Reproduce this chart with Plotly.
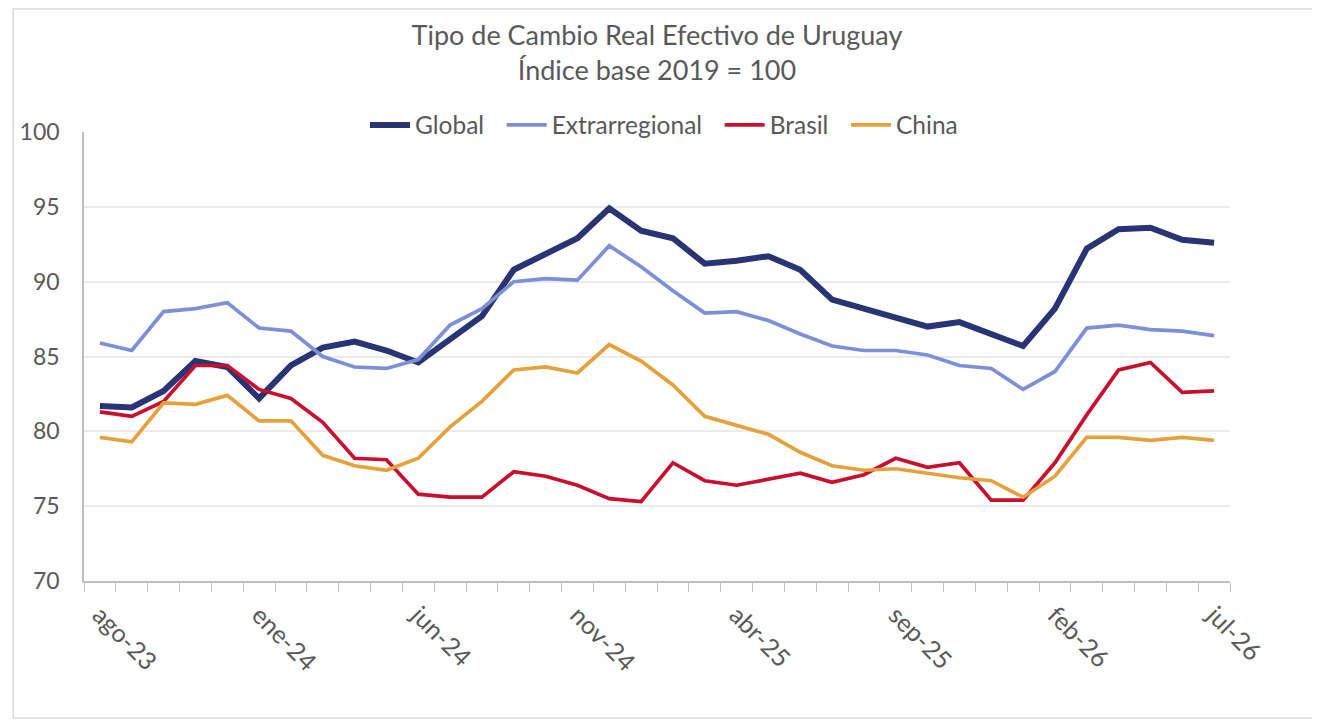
import plotly.graph_objects as go

# meses ago-23 .. jul-26
meses = ["ago-23", "sep-23", "oct-23", "nov-23", "dic-23",
         "ene-24", "feb-24", "mar-24", "abr-24", "may-24",
         "jun-24", "jul-24", "ago-24", "sep-24", "oct-24",
         "nov-24", "dic-24", "ene-25", "feb-25", "mar-25",
         "abr-25", "may-25", "jun-25", "jul-25", "ago-25",
         "sep-25", "oct-25", "nov-25", "dic-25", "ene-26",
         "feb-26", "mar-26", "abr-26", "may-26", "jun-26", "jul-26"]

global_ = [81.7, 81.6, 82.7, 84.7, 84.3, 82.2, 84.4, 85.6, 86.0, 85.4,
           84.6, 86.2, 87.7, 90.8, 91.9, 92.9, 94.9, 93.4, 92.9, 91.2,
           91.4, 91.7, 90.8, 88.8, 88.2, 87.6, 87.0, 87.3, 86.5, 85.7,
           88.2, 92.2, 93.5, 93.6, 92.8, 92.6]

extrarregional = [85.9, 85.4, 88.0, 88.2, 88.6, 86.9, 86.7, 85.0, 84.3, 84.2,
                  84.8, 87.1, 88.2, 90.0, 90.2, 90.1, 92.4, 91.0, 89.4, 87.9,
                  88.0, 87.4, 86.5, 85.7, 85.4, 85.4, 85.1, 84.4, 84.2, 82.8,
                  84.0, 86.9, 87.1, 86.8, 86.7, 86.4]

brasil = [81.3, 81.0, 82.0, 84.4, 84.4, 82.8, 82.2, 80.6, 78.2, 78.1,
          75.8, 75.6, 75.6, 77.3, 77.0, 76.4, 75.5, 75.3, 77.9, 76.7,
          76.4, 76.8, 77.2, 76.6, 77.1, 78.2, 77.6, 77.9, 75.4, 75.4,
          77.9, 81.1, 84.1, 84.6, 82.6, 82.7]

china = [79.6, 79.3, 81.9, 81.8, 82.4, 80.7, 80.7, 78.4, 77.7, 77.4,
         78.2, 80.3, 82.0, 84.1, 84.3, 83.9, 85.8, 84.7, 83.1, 81.0,
         80.4, 79.8, 78.6, 77.7, 77.4, 77.5, 77.2, 76.9, 76.7, 75.6,
         77.0, 79.6, 79.6, 79.4, 79.6, 79.4]

# etiqueta cada 5 meses
etiquetas = [m if i % 5 == 0 else "" for i, m in enumerate(meses)]

gris = "#595959"
fuente = "Lato"
esp = "\u00a0\u00a0"  # separación extra entre entradas de la leyenda

# la página deja 8px de margen arriba y a la izquierda
W, H = 1312, 712
ml, mr, mt, mb = 72, 90, 124, 139
pw, ph = W - ml - mr, H - mt - mb

fig = go.Figure()
fig.add_trace(go.Scatter(x=meses, y=global_, name="Global" + esp, mode="lines",
                         line=dict(color="#283474", width=6)))
fig.add_trace(go.Scatter(x=meses, y=extrarregional, name="Extrarregional" + esp, mode="lines",
                         line=dict(color="#7b90d6", width=3.7)))
fig.add_trace(go.Scatter(x=meses, y=brasil, name="Brasil" + esp, mode="lines",
                         line=dict(color="#c8102e", width=3.7)))
fig.add_trace(go.Scatter(x=meses, y=china, name="China", mode="lines",
                         line=dict(color="#e5a23c", width=3.7)))

fig.update_layout(
    width=W, height=H,
    paper_bgcolor="white", plot_bgcolor="white",
    margin=dict(l=ml, r=mr, t=mt, b=mb),
    font=dict(family=fuente, color=gris, size=22),
    title=dict(text="Tipo de Cambio Real Efectivo de Uruguay<br>Índice base 2019 = 100",
               x=0.5, xref="paper", xanchor="center", y=1 - 37 / H, yanchor="top",
               font=dict(size=27, color=gris, family=fuente)),
    legend=dict(orientation="h", x=0.5 + 7 / pw, xanchor="center", y=1 + 7 / ph, yanchor="middle",
                font=dict(size=24.5, color=gris), bgcolor="rgba(0,0,0,0)",
                itemwidth=40, tracegroupgap=0),
    showlegend=True,
)

fig.update_xaxes(
    type="category", tickmode="array", tickvals=meses, ticktext=etiquetas,
    tickson="boundaries", ticks="outside", ticklen=9, tickcolor="#bfbfbf",
    tickangle=45, tickfont=dict(size=25, color=gris), ticklabelstandoff=8,
    showline=True, linecolor="#bfbfbf", linewidth=1.5,
    showgrid=False, range=[-0.5, len(meses) - 0.5], zeroline=False,
)
fig.update_yaxes(
    range=[70, 100], dtick=5, tick0=70,
    showgrid=True, gridcolor="#ebebeb", gridwidth=1.5,
    showline=True, linecolor="#bfbfbf", linewidth=1.5,
    ticks="", tickfont=dict(size=23, color=gris), ticklabelstandoff=18,
    zeroline=False,
)

# borde del área del gráfico
fig.add_shape(type="rect", xref="paper", yref="paper",
              x0=-(ml - 1) / pw, x1=1 + (mr - 2) / pw, y0=-(mb - 2) / ph, y1=1 + (mt - 1) / ph,
              line=dict(color="#d9d9d9", width=1.5), layer="below")

fig.write_html("out.html")
